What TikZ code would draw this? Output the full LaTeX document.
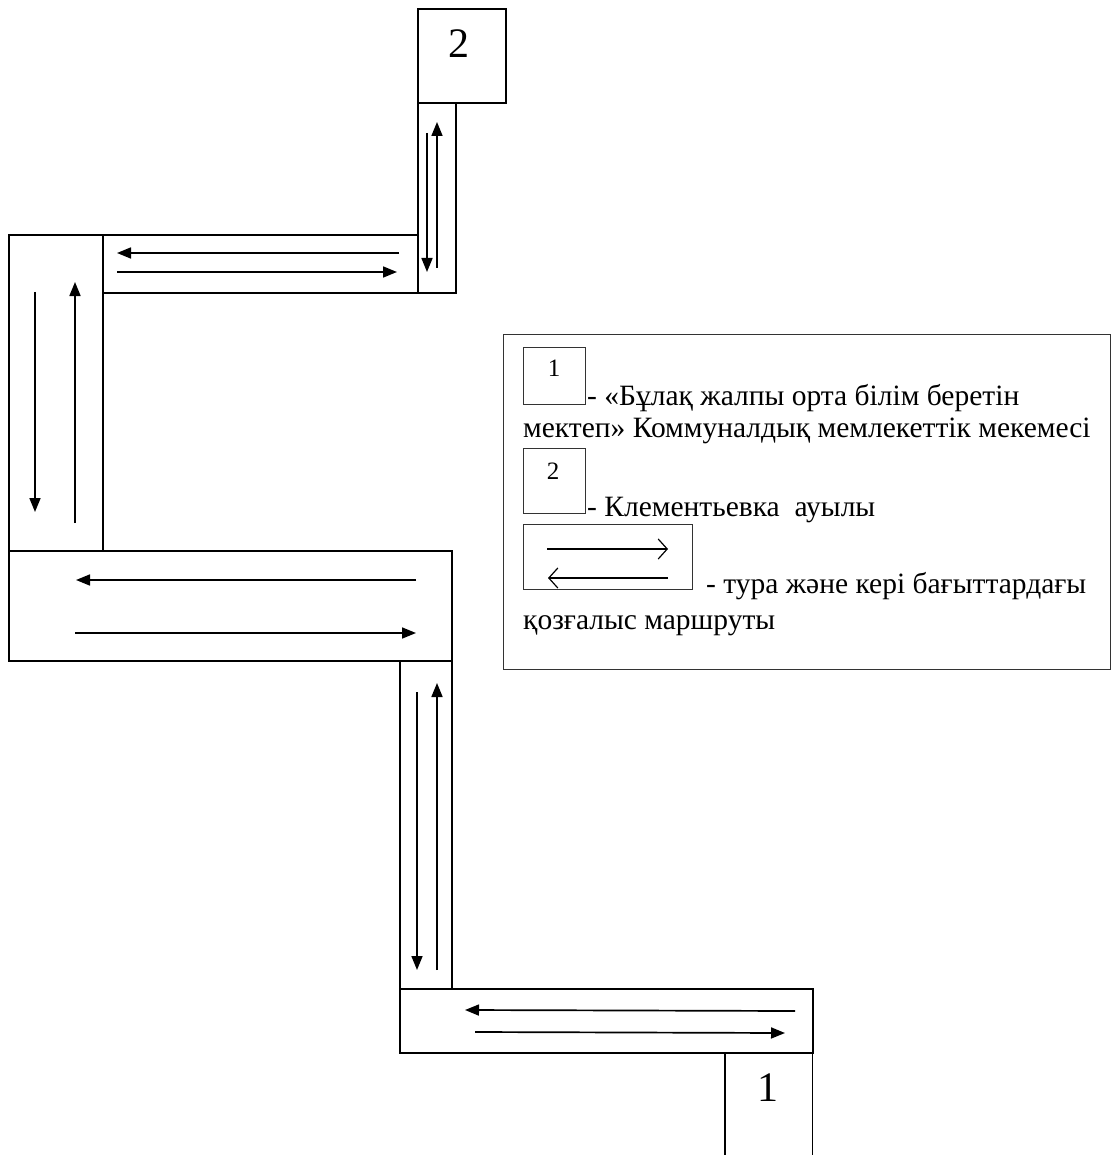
\documentclass[tikz,border=0pt]{standalone}
\usepackage{fontspec}
\setmainfont{Liberation Serif}
\usetikzlibrary{arrows.meta}
\begin{document}
\begin{tikzpicture}[x=1pt,y=-1pt,
  road/.style={draw=black,line width=1.6pt,inner sep=0pt,anchor=north west},
  legbox/.style={draw=black!80,line width=1.2pt,inner sep=0pt,anchor=north west},
  route/.style={line width=1.7pt,-{Triangle[length=14pt,width=11pt]}},
  legroute/.style={line width=1.2pt,-{Straight Barb[length=9pt,width=20pt]}},
  bignum/.style={font=\fontsize{42}{46}\selectfont,inner sep=0pt},
  smallnum/.style={font=\fontsize{25}{28}\selectfont,inner sep=0pt},
  lbl/.style={font=\fontsize{29.5}{32}\selectfont,anchor=base west,inner sep=0pt},
]
\useasboundingbox (0,0) rectangle (1111,1155);

% road segments
\node[road,minimum width=88pt,minimum height=94pt] (b2) at (417,8) {};
\node[bignum] (n2) at (459,44) {2};
\node[road,minimum width=38pt,minimum height=190pt] (vs1) at (417,102) {};
\node[road,minimum width=315pt,minimum height=58pt] (hs1) at (102,234) {};
\node[road,minimum width=94pt,minimum height=316pt] (vl) at (8,234) {};
\node[road,minimum width=443pt,minimum height=110pt] (hm) at (8,550) {};
\node[road,minimum width=52pt,minimum height=328pt] (vs2) at (399,660) {};
\node[road,minimum width=413pt,minimum height=64pt] (hb) at (399,988) {};
\node[inner sep=0pt,minimum width=87pt,minimum height=104pt,anchor=north west] (b1) at (725,1052) {};
\draw[line width=1.6pt] (b1.south west) -- (b1.north west) (b1.north east) -- (b1.south east);
\node[bignum] (n1) at (768,1088) {1};

% route arrows
\coordinate (a1s) at (427,133); \coordinate (a1e) at (427,272);
\coordinate (a2s) at (437,268); \coordinate (a2e) at (437,122);
\draw[route] (a1s) -- (a1e);
\draw[route] (a2s) -- (a2e);
\coordinate (a3s) at (399,253); \coordinate (a3e) at (117,253);
\coordinate (a4s) at (117,272); \coordinate (a4e) at (397,272);
\draw[route] (a3s) -- (a3e);
\draw[route] (a4s) -- (a4e);
\coordinate (a5s) at (35,292); \coordinate (a5e) at (35,512);
\coordinate (a6s) at (75,523); \coordinate (a6e) at (75,282);
\draw[route] (a5s) -- (a5e);
\draw[route] (a6s) -- (a6e);
\coordinate (a7s) at (416,580); \coordinate (a7e) at (76,580);
\coordinate (a8s) at (75,633); \coordinate (a8e) at (416,633);
\draw[route] (a7s) -- (a7e);
\draw[route] (a8s) -- (a8e);
\coordinate (a9s) at (417,692); \coordinate (a9e) at (417,970);
\coordinate (a10s) at (437,970); \coordinate (a10e) at (437,683);
\draw[route] (a9s) -- (a9e);
\draw[route] (a10s) -- (a10e);
\coordinate (a11s) at (795,1011); \coordinate (a11e) at (465,1010);
\coordinate (a12s) at (475,1032); \coordinate (a12e) at (785,1033);
\draw[route] (a11s) -- (a11e);
\draw[route] (a12s) -- (a12e);

% legend
\node[legbox,line width=1.4pt,minimum width=607pt,minimum height=335pt] (leg) at (503,334) {};
\node[legbox,minimum width=62pt,minimum height=57pt] (lb1) at (523,347) {};
\node[smallnum] (ln1) at (554,368) {1};
\node[lbl] (t1) at (587,405) {- «Бұлақ жалпы орта білім беретін};
\node[lbl] (t2) at (523,437) {мектеп» Коммуналдық мемлекеттік мекемесі};
\node[legbox,minimum width=62pt,minimum height=65pt] (lb2) at (523,448) {};
\node[smallnum] (ln2) at (553,471) {2};
\node[lbl] (t3) at (587,516) {- Клементьевка\hspace{0.5em}ауылы};
\node[legbox,minimum width=169pt,minimum height=65pt] (lb3) at (523,524) {};
\coordinate (l1s) at (547,549); \coordinate (l1e) at (668,549);
\coordinate (l2s) at (668,578); \coordinate (l2e) at (548,578);
\draw[legroute] (l1s) -- (l1e);
\draw[legroute] (l2s) -- (l2e);
\node[lbl] (t4) at (706,593) {- тура және кері бағыттардағы};
\node[lbl] (t5) at (523,629) {қозғалыс маршруты};
\end{tikzpicture}
\end{document}
